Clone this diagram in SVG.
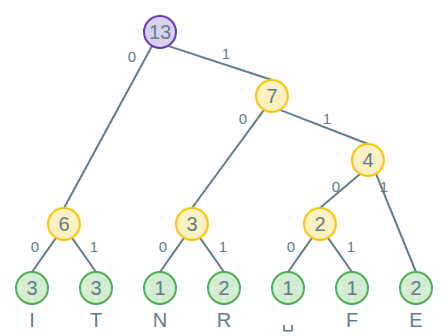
<svg xmlns="http://www.w3.org/2000/svg" width="448" height="336" viewBox="0 0 448 336">
<style>
  .edge { stroke: #607d8b; stroke-width: 2; fill: none; stroke-linecap: round; }
  .root circle { fill: #d9d0ee; stroke: #673ab7; stroke-width: 2; }
  .inner circle { fill: #fff0c2; stroke: #ffc107; stroke-width: 2; }
  .leaf circle { fill: #d4ebd4; stroke: #4caf50; stroke-width: 2; }
  .num { font-family: "Liberation Sans", Arial, sans-serif; font-size: 20px; fill: #607d8b; text-anchor: middle; }
  .bit { font-family: "Liberation Sans", Arial, sans-serif; font-size: 15px; fill: #607d8b; text-anchor: middle; }
  .sym { font-family: "Liberation Sans", "DejaVu Sans", Arial, sans-serif; font-size: 20px; fill: #607d8b; text-anchor: middle; }
</style>
<rect width="448" height="336" fill="#ffffff"/>
<g id="connectors">
  <line class="edge" x1="152" y1="45.9" x2="64" y2="208"/>
  <line class="edge" x1="168" y1="45.9" x2="272" y2="80"/>
  <line class="edge" x1="264" y1="109.9" x2="192" y2="208"/>
  <line class="edge" x1="280" y1="109.9" x2="368" y2="144"/>
  <line class="edge" x1="360" y1="173.9" x2="320" y2="208"/>
  <line class="edge" x1="376" y1="173.9" x2="416" y2="272"/>
  <line class="edge" x1="56" y1="237.9" x2="32" y2="272"/>
  <line class="edge" x1="72" y1="237.9" x2="96" y2="272"/>
  <line class="edge" x1="184" y1="237.9" x2="160" y2="272"/>
  <line class="edge" x1="200" y1="237.9" x2="224" y2="272"/>
  <line class="edge" x1="312" y1="237.9" x2="288" y2="272"/>
  <line class="edge" x1="328" y1="237.9" x2="352" y2="272"/>
  <text class="bit" x="132" y="62">0</text>
  <text class="bit" x="226" y="59">1</text>
  <text class="bit" x="243" y="123.5">0</text>
  <text class="bit" x="327" y="123.5">1</text>
  <text class="bit" x="336" y="191.5">0</text>
  <text class="bit" x="384" y="191.5">1</text>
  <text class="bit" x="35" y="251.5">0</text>
  <text class="bit" x="94" y="251.5">1</text>
  <text class="bit" x="163" y="251.5">0</text>
  <text class="bit" x="223" y="251.5">1</text>
  <text class="bit" x="291" y="251.5">0</text>
  <text class="bit" x="351" y="251.5">1</text>
</g>
<g id="n13" class="root"><circle cx="160" cy="32" r="16"/><text class="num" x="160" y="39">13</text></g>
<g id="n7" class="inner"><circle cx="272" cy="96" r="16"/><text class="num" x="272" y="103">7</text></g>
<g id="n4" class="inner"><circle cx="368" cy="160" r="16"/><text class="num" x="368" y="167">4</text></g>
<g id="n6" class="inner"><circle cx="64" cy="224" r="16"/><text class="num" x="64" y="231">6</text></g>
<g id="n3" class="inner"><circle cx="192" cy="224" r="16"/><text class="num" x="192" y="231">3</text></g>
<g id="n2" class="inner"><circle cx="320" cy="224" r="16"/><text class="num" x="320" y="231">2</text></g>
<g id="leafI" class="leaf"><circle cx="32" cy="288" r="16"/><text class="num" x="32" y="295">3</text><text class="sym" x="32" y="327">I</text></g>
<g id="leafT" class="leaf"><circle cx="96" cy="288" r="16"/><text class="num" x="96" y="295">3</text><text class="sym" x="96" y="327">T</text></g>
<g id="leafN" class="leaf"><circle cx="160" cy="288" r="16"/><text class="num" x="160" y="295">1</text><text class="sym" x="160" y="327">N</text></g>
<g id="leafR" class="leaf"><circle cx="224" cy="288" r="16"/><text class="num" x="224" y="295">2</text><text class="sym" x="224" y="327">R</text></g>
<g id="leafSpace" class="leaf"><circle cx="288" cy="288" r="16"/><text class="num" x="288" y="295">1</text><text class="sym" x="288" y="327">␣</text></g>
<g id="leafF" class="leaf"><circle cx="352" cy="288" r="16"/><text class="num" x="352" y="295">1</text><text class="sym" x="352" y="327">F</text></g>
<g id="leafE" class="leaf"><circle cx="416" cy="288" r="16"/><text class="num" x="416" y="295">2</text><text class="sym" x="416" y="327">E</text></g>
</svg>
